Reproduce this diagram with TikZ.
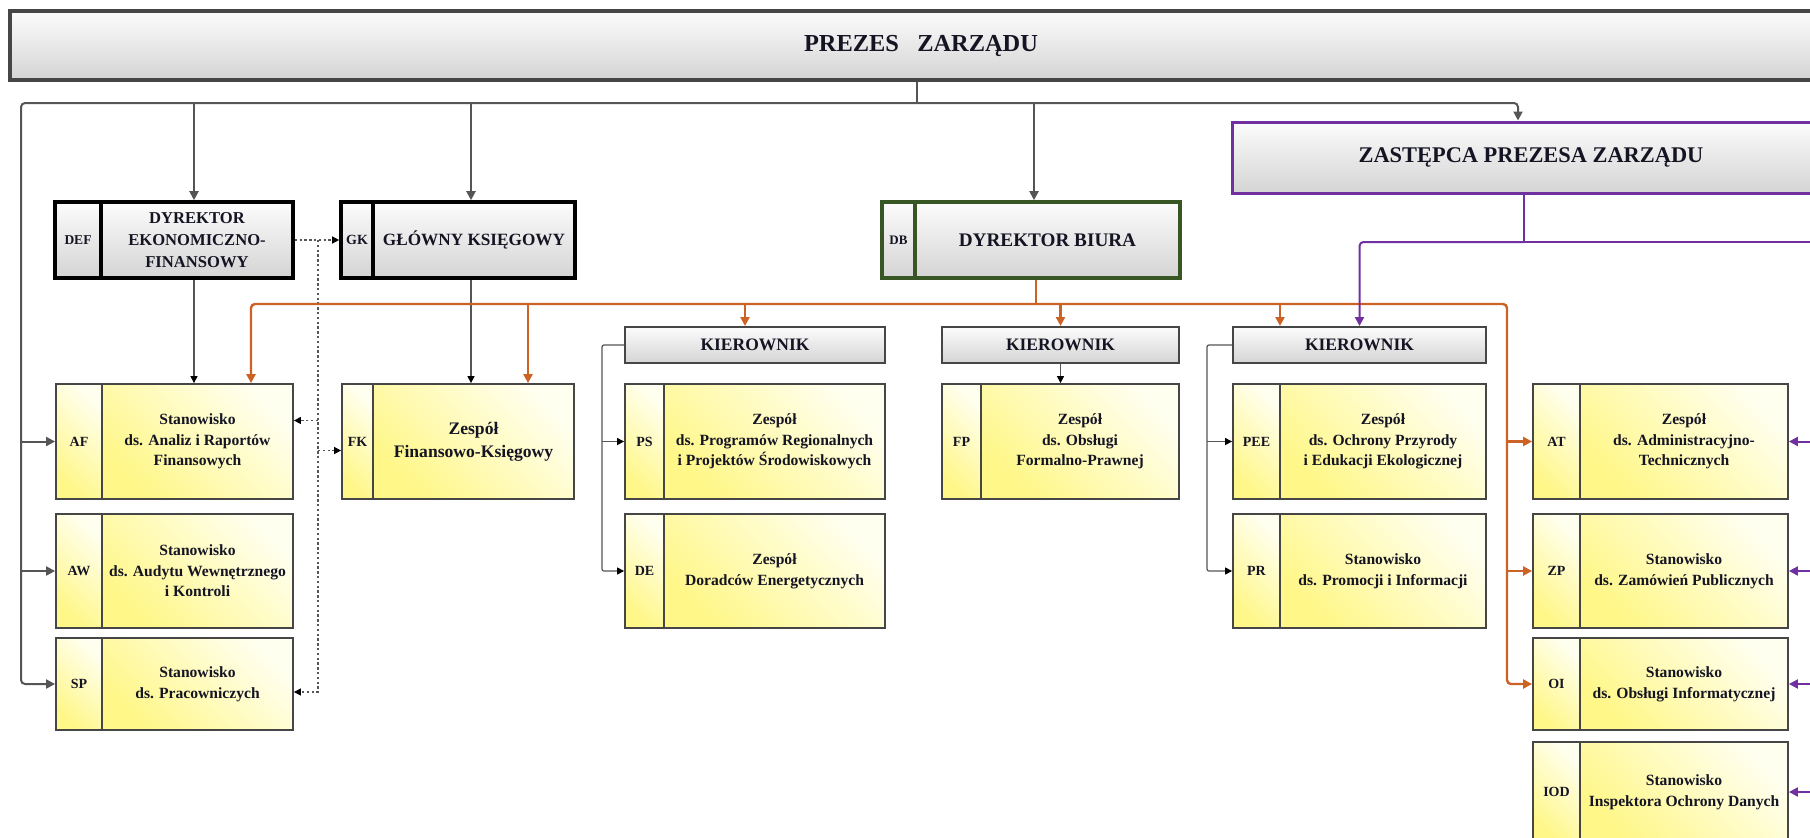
\documentclass[tikz,border=0pt]{standalone}
\usepackage{fontspec}
\setmainfont{Liberation Serif}
\usetikzlibrary{arrows.meta}
\definecolor{ylw}{RGB}{255,247,135}
\definecolor{ylwl}{RGB}{255,255,240}
\definecolor{gryd}{RGB}{212,212,212}
\definecolor{gryl}{RGB}{252,252,252}
\definecolor{bord}{RGB}{70,70,70}
\definecolor{conn}{RGB}{85,85,85}
\definecolor{orng}{RGB}{204,98,36}
\definecolor{purp}{RGB}{112,48,160}
\definecolor{dgrn}{RGB}{55,86,35}
\definecolor{txt}{RGB}{20,20,35}
\newcommand\fsb[2]{\fontsize{#1}{#2}\selectfont\bfseries}
\newcommand\yelbox[9]{%
 \node[ylab, minimum width={(#4-#3)*0.5pt}, minimum height={(#7-#6)*0.5pt}] (#1) at ({(#3+#4)/2},{(#6+#7)/2}) {#8};
 \node[ytxt, minimum width={(#5-#4)*0.5pt}, minimum height={(#7-#6)*0.5pt}] (#2) at ({(#4+#5)/2},{(#6+#7)/2}) {#9};}
\tikzset{
 cellbase/.style={rectangle, inner sep=0.5pt, text=txt, align=center},
 ycell/.style={cellbase, draw=bord, line width=0.9pt, top color=ylwl, bottom color=ylw, shading angle=-45},
 ylab/.style={ycell, font=\fsb{7}{8}},
 ytxt/.style={ycell, font=\fsb{7.8}{10.3}},
 gcell/.style={cellbase, top color=gryl, bottom color=gryd},
 prezbox/.style={gcell, draw=bord, line width=2pt, font=\fsb{12.2}{14}},
 zastbox/.style={gcell, draw=purp, line width=1.5pt, font=\fsb{11.2}{13}},
 dirbox/.style={gcell, draw=black, line width=1.8pt},
 dbbox/.style={gcell, draw=dgrn, line width=1.8pt},
 kierbox/.style={gcell, draw=bord, line width=1pt, font=\fsb{8.75}{10}},
 gline/.style={draw=conn, line width=1pt},
 garrow/.style={gline, -{Triangle[length=4.5pt,width=4.5pt]}},
 tarrow/.style={draw=conn, line width=0.6pt, -{Triangle[length=3.5pt,width=3.5pt,color=black]}},
 darrow/.style={draw=conn, line width=0.6pt, dash pattern=on 1.2pt off 1.2pt, -{Triangle[length=3.5pt,width=3.5pt,color=black]}},
 oline/.style={draw=orng, line width=1.2pt},
 oarrow/.style={oline, -{Triangle[length=4.5pt,width=4.5pt]}},
 pline/.style={draw=purp, line width=1pt},
 parrow/.style={pline, -{Triangle[length=4.5pt,width=4.5pt]}},
}
\begin{document}
\begin{tikzpicture}[x=0.5pt, y=-0.5pt]
\useasboundingbox (0,0) rectangle (1810,837);
\fill[white] (0,0) rectangle (1810,837);
\clip (0,0) rectangle (1810,837);

% top level
\node[prezbox, minimum width={1822*0.5pt}, minimum height={69*0.5pt}] (Prezes) at (921,45.5) {PREZES\ \ \ ZARZĄDU};
\node[zastbox, minimum width={598*0.5pt}, minimum height={71*0.5pt}] (Zast) at (1531,157.5) {ZASTĘPCA PREZESA ZARZĄDU};

% directors
\node[dirbox, font=\fsb{6.75}{8}, minimum width={46*0.5pt}, minimum height={76*0.5pt}] (DEFl) at (78,240) {DEF};
\node[dirbox, font=\fsb{8.3}{11}, minimum width={192*0.5pt}, minimum height={76*0.5pt}] (DEF) at (197,240) {DYREKTOR\\EKONOMICZNO-\\FINANSOWY};
\node[dirbox, font=\fsb{7}{8}, minimum width={32*0.5pt}, minimum height={76*0.5pt}] (GKl) at (357,240) {GK};
\node[dirbox, font=\fsb{8.6}{10}, minimum width={202*0.5pt}, minimum height={76*0.5pt}] (GK) at (474,240) {GŁÓWNY KSIĘGOWY};
\node[dbbox, font=\fsb{6.5}{8}, minimum width={33*0.5pt}, minimum height={76*0.5pt}] (DBl) at (898.5,240) {DB};
\node[dbbox, font=\fsb{9.6}{11}, minimum width={265*0.5pt}, minimum height={76*0.5pt}] (DB) at (1047.5,240) {DYREKTOR BIURA};

% kierownicy
\node[kierbox, minimum width={260*0.5pt}, minimum height={36*0.5pt}] (K1) at (755,345) {KIEROWNIK};
\node[kierbox, minimum width={237*0.5pt}, minimum height={36*0.5pt}] (K2) at (1060.5,345) {KIEROWNIK};
\node[kierbox, minimum width={253*0.5pt}, minimum height={36*0.5pt}] (K3) at (1359.5,345) {KIEROWNIK};

% yellow units
\yelbox{AFl}{AF}{56}{102}{293}{384}{499}{AF}{Stanowisko\\ds. Analiz i Raportów\\Finansowych}
\yelbox{AWl}{AW}{56}{102}{293}{514}{628}{AW}{Stanowisko\\ds. Audytu Wewnętrznego\\i Kontroli}
\yelbox{SPl}{SP}{56}{102}{293}{638}{730}{SP}{Stanowisko\\ds. Pracowniczych}
\node[ylab, minimum width={31*0.5pt}, minimum height={115*0.5pt}] (FKl) at (357.5,441.5) {FK};
\node[ycell, font=\fsb{8.8}{11.5}, minimum width={201*0.5pt}, minimum height={115*0.5pt}] (FK) at (473.5,441.5) {Zespół\\Finansowo-Księgowy};
\yelbox{PSl}{PS}{625}{664}{885}{384}{499}{PS}{Zespół\\ds. Programów Regionalnych\\i Projektów Środowiskowych}
\yelbox{DEl}{DE}{625}{664}{885}{514}{628}{DE}{Zespół\\Doradców Energetycznych}
\yelbox{FPl}{FP}{942}{981}{1179}{384}{499}{FP}{Zespół\\ds. Obsługi\\Formalno-Prawnej}
\yelbox{PEEl}{PEE}{1233}{1280}{1486}{384}{499}{PEE}{Zespół\\ds. Ochrony Przyrody\\i Edukacji Ekologicznej}
\yelbox{PRl}{PR}{1233}{1280}{1486}{514}{628}{PR}{Stanowisko\\ds. Promocji i Informacji}
\yelbox{ATl}{AT}{1533}{1580}{1788}{384}{499}{AT}{Zespół\\ds. Administracyjno-\\Technicznych}
\yelbox{ZPl}{ZP}{1533}{1580}{1788}{514}{628}{ZP}{Stanowisko\\ds. Zamówień Publicznych}
\yelbox{OIl}{OI}{1533}{1580}{1788}{638}{730}{OI}{Stanowisko\\ds. Obsługi Informatycznej}
\yelbox{IODl}{IOD}{1533}{1580}{1788}{742}{842}{IOD}{Stanowisko\\Inspektora Ochrony Danych}

% gray connectors from Prezes
\coordinate (busP) at (917,103);
\coordinate (busL) at (21,103);
\coordinate (busR) at (1518,103);
\coordinate (xDEF) at (194,103);
\coordinate (xGK) at (471,103);
\coordinate (xDB) at (1034,103);
\draw[gline] (Prezes.south -| busP) -- (busP);
\draw[garrow, rounded corners=2pt] (busP) -- (busL) -- (busL |- SPl.west) -- (SPl.west);
\draw[garrow, rounded corners=2pt] (busP) -- (busR) -- (busR |- Zast.north);
\draw[garrow] (busL |- AFl.west) -- (AFl.west);
\draw[garrow] (busL |- AWl.west) -- (AWl.west);
\draw[garrow] (xDEF) -- (xDEF |- DEF.north);
\draw[garrow] (xGK) -- (xGK |- GK.north);
\draw[garrow] (xDB) -- (xDB |- DB.north);
\draw[tarrow] (xDEF |- DEF.south) -- (xDEF |- AF.north);
\draw[tarrow] (xGK |- GK.south) -- (xGK |- FK.north);

% dotted links
\coordinate (dotT) at (318,240);
\coordinate (SPd) at ([yshift=-4pt]SP.east);
\coordinate (AFd) at ([yshift=10.5pt]AF.east);
\coordinate (FKd) at ([yshift=-4.5pt]FKl.west);
\draw[darrow] (DEF.east) -- (GKl.west);
\draw[darrow] (dotT) -- (dotT |- SPd) -- (SPd);
\draw[darrow] (dotT |- AFd) -- (AFd);
\draw[darrow] (dotT |- FKd) -- (FKd);

% orange connectors from Dyrektor Biura
\coordinate (oJ) at (1036,304);
\coordinate (oL) at (251,304);
\coordinate (oR) at (1507,304);
\coordinate (oFK) at (528,304);
\coordinate (oK1) at (745,304);
\coordinate (oK3) at (1280,304);
\draw[oline] (oJ |- DB.south) -- (oJ);
\draw[oarrow, rounded corners=2pt] (oJ) -- (oL) -- (oL |- AF.north);
\draw[oarrow, rounded corners=2pt] (oJ) -- (oR) -- (oR |- OIl.west) -- (OIl.west);
\draw[oarrow] (oR |- ATl.west) -- (ATl.west);
\draw[oarrow] (oR |- ZPl.west) -- (ZPl.west);
\draw[oarrow] (oFK) -- (oFK |- FK.north);
\draw[oarrow] (oK1) -- (oK1 |- K1.north);
\draw[oarrow] (K2.north |- oJ) -- (K2.north);
\draw[oarrow] (oK3) -- (oK3 |- K3.north);

% purple connectors from Zastepca
\coordinate (pJ) at (1524,242);
\coordinate (pR) at (1835,242);
\draw[pline] (pJ |- Zast.south) -- (pJ);
\draw[parrow, rounded corners=2pt] (pJ) -| (K3.north);
\draw[pline] (pJ) -- (pR) -- (pR |- IOD.east);
\foreach \n in {AT,ZP,OI,IOD} \draw[parrow] (pR |- \n.east) -- (\n.east);

% kierownik brackets
\coordinate (k1b) at (602,345);
\coordinate (k3b) at (1207,345);
\draw[tarrow, rounded corners=1pt] (K1.west) -- (k1b) |- (DEl.west);
\draw[tarrow] (k1b |- PSl.west) -- (PSl.west);
\draw[tarrow, rounded corners=1pt] (K3.west) -- (k3b) |- (PRl.west);
\draw[tarrow] (k3b |- PEEl.west) -- (PEEl.west);
\draw[tarrow] (K2.south) -- (K2.south |- FP.north);
\end{tikzpicture}
\end{document}
